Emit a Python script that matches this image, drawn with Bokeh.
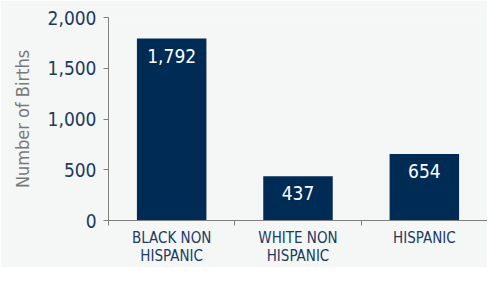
from bokeh.plotting import figure
from bokeh.models import ColumnDataSource, FixedTicker, NumeralTickFormatter, Range1d
from bokeh.core.properties import value
from bokeh.embed import file_html
from bokeh.resources import INLINE

categories = ["BLACK NON\nHISPANIC", "WHITE NON\nHISPANIC", "HISPANIC"]
births = [1792, 437, 654]
bar_labels = ["1,792", "437", "654"]
y_ticks = [0, 500, 1000, 1500, 2000]

xpos = [i + 0.5 for i in range(len(categories))]
src = ColumnDataSource(dict(x=xpos, top=births, label=bar_labels))

FONT = "DejaVu Sans Condensed"
BG = "#f5f6f6"
NAVY = "#002b55"
TXT = "#1b3b63"

p = figure(width=487, height=267, output_backend="svg", toolbar_location=None,
           x_range=Range1d(0, len(categories)), y_range=Range1d(0, 2000),
           min_border_left=108, min_border_right=0, min_border_top=17, min_border_bottom=30)
p.background_fill_color = BG
p.border_fill_color = BG
p.outline_line_color = None
p.grid.grid_line_color = None

p.vbar(x="x", top="top", width=0.55, bottom=0, source=src, fill_color=NAVY, line_color=None)
p.text(x="x", y="top", text="label", source=src, text_color="white",
       text_font=value(FONT), text_font_size="19px", text_align="center",
       text_baseline="middle", y_offset=17)

# y axis
p.yaxis.ticker = FixedTicker(ticks=y_ticks)
p.yaxis.formatter = NumeralTickFormatter(format="0,0")
p.yaxis.axis_label = "Number of Births"
p.yaxis.axis_label_text_font = FONT
p.yaxis.axis_label_text_font_style = "normal"
p.yaxis.axis_label_text_font_size = "18px"
p.yaxis.axis_label_text_color = "#7a7a7a"
p.yaxis.axis_label_standoff = 12
p.yaxis.major_label_text_font = FONT
p.yaxis.major_label_text_font_size = "19px"
p.yaxis.major_label_text_color = TXT
p.yaxis.major_label_standoff = 7
p.yaxis.major_tick_in = 0
p.yaxis.major_tick_out = 5
p.yaxis.minor_tick_line_color = None
p.yaxis.axis_line_color = "#7f7f7f"
p.yaxis.major_tick_line_color = "#7f7f7f"

# x axis: labels at category centres, ticks at category boundaries
p.xaxis.ticker = FixedTicker(ticks=xpos, minor_ticks=list(range(len(categories) + 1)))
p.xaxis.major_label_overrides = {x: c for x, c in zip(xpos, categories)}
p.xaxis.major_label_text_font = FONT
p.xaxis.major_label_text_font_size = "15px"
p.xaxis.major_label_text_line_height = 1.0
p.xaxis.major_label_text_color = TXT
p.xaxis.major_label_standoff = 3
p.xaxis.major_tick_in = 0
p.xaxis.major_tick_out = 0
p.xaxis.minor_tick_in = 0
p.xaxis.minor_tick_out = 5
p.xaxis.minor_tick_line_color = "#7f7f7f"
p.xaxis.axis_line_color = "#7f7f7f"

open("out.html", "w").write(file_html(p, INLINE))
